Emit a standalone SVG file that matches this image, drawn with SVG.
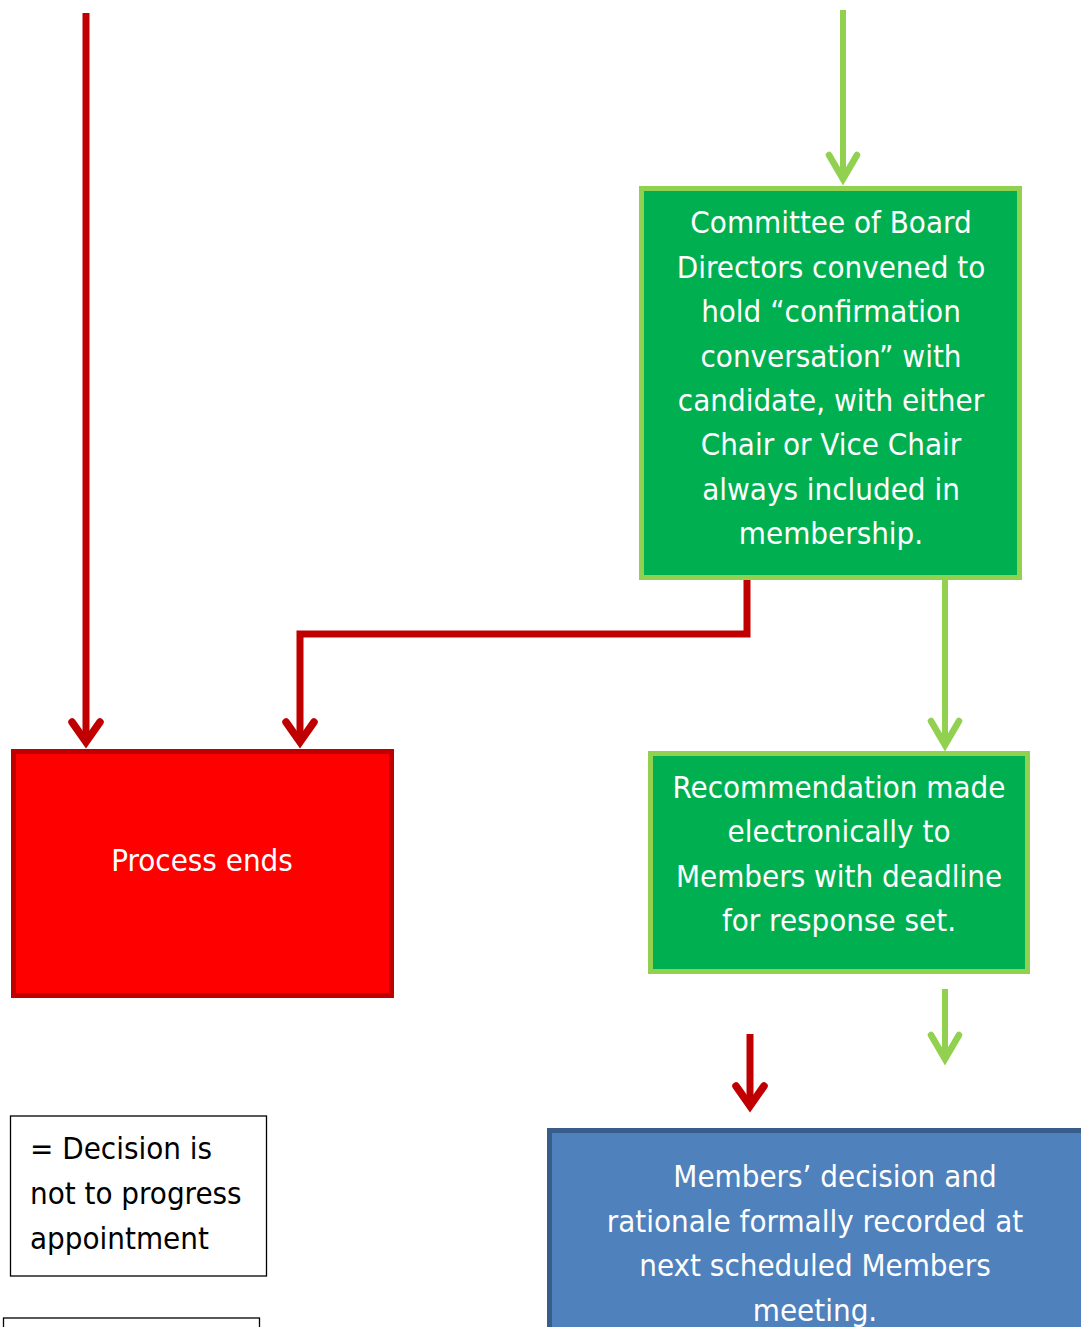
<svg xmlns="http://www.w3.org/2000/svg" width="1081" height="1327" viewBox="0 0 1081 1327">
  <style>
    .lbl { font-family: "DejaVu Sans Condensed", "DejaVu Sans", sans-serif; font-size: 31px; fill: #ffffff; text-anchor: middle; }
    .key { font-family: "DejaVu Sans Condensed", "DejaVu Sans", sans-serif; font-size: 31px; fill: #000000; }
    .green-box { fill: #00b050; stroke: #92d050; stroke-width: 5; }
    .red-box { fill: #ff0000; stroke: #c00000; stroke-width: 5; }
    .blue-box { fill: #4f81bd; stroke: #385d8a; stroke-width: 5; }
    .key-box { fill: #ffffff; stroke: #000000; stroke-width: 1.3; }
    .no { fill: none; stroke: #c00000; stroke-width: 7; }
    .yes { fill: none; stroke: #92d050; stroke-width: 6; }
  </style>
  <defs>
    <marker id="head-red" markerUnits="userSpaceOnUse" orient="auto" viewBox="-30 -20 40 40" refX="0" refY="0" markerWidth="40" markerHeight="40" overflow="visible">
      <path d="M-20,-14 L0,0 L-20,14" fill="none" stroke="#c00000" stroke-width="7.5" stroke-linecap="round" stroke-linejoin="miter"/>
    </marker>
    <marker id="head-green" markerUnits="userSpaceOnUse" orient="auto" viewBox="-30 -20 40 40" refX="0" refY="0" markerWidth="40" markerHeight="40" overflow="visible">
      <path d="M-24,-14 L0,0 L-24,14" fill="none" stroke="#92d050" stroke-width="6.5" stroke-linecap="round" stroke-linejoin="miter"/>
    </marker>
  </defs>

  <!-- connectors: red = not progressed, green = progressed -->
  <g id="connectors">
    <path class="no" d="M86,13 L86,742" marker-end="url(#head-red)"/>
    <path class="yes" d="M843,10 L843,179" marker-end="url(#head-green)"/>
    <path class="no" d="M747,573 L747,634 L300,634 L300,742" marker-end="url(#head-red)"/>
    <path class="yes" d="M945,580 L945,745" marker-end="url(#head-green)"/>
    <path class="yes" d="M945,989 L945,1059" marker-end="url(#head-green)"/>
    <path class="no" d="M750,1034 L750,1106" marker-end="url(#head-red)"/>
  </g>

  <g id="committee">
    <rect class="green-box" x="641.5" y="188.5" width="378" height="389"/>
    <text class="lbl"><tspan x="831" y="233">Committee of Board</tspan><tspan x="831" y="278">Directors convened to</tspan><tspan x="831" y="322">hold “confirmation</tspan><tspan x="831" y="367">conversation” with</tspan><tspan x="831" y="411">candidate, with either</tspan><tspan x="831" y="455">Chair or Vice Chair</tspan><tspan x="831" y="500">always included in</tspan><tspan x="831" y="544">membership.</tspan></text>
  </g>

  <g id="process-ends">
    <rect class="red-box" x="13.5" y="751.5" width="378" height="244"/>
    <text class="lbl" x="202" y="871">Process ends</text>
  </g>

  <g id="recommendation">
    <rect class="green-box" x="650.5" y="753.5" width="377" height="218"/>
    <text class="lbl"><tspan x="839" y="798">Recommendation made</tspan><tspan x="839" y="842">electronically to</tspan><tspan x="839" y="887">Members with deadline</tspan><tspan x="839" y="931">for response set.</tspan></text>
  </g>

  <g id="members-decision">
    <rect class="blue-box" x="549.5" y="1130.5" width="540" height="220"/>
    <text class="lbl"><tspan x="835" y="1187">Members’ decision and</tspan><tspan x="815" y="1232">rationale formally recorded at</tspan><tspan x="815" y="1276">next scheduled Members</tspan><tspan x="815" y="1321">meeting.</tspan></text>
  </g>

  <g id="key-no">
    <rect class="key-box" x="10.5" y="1116" width="256" height="160"/>
    <text class="key"><tspan x="30" y="1159">= Decision is</tspan><tspan x="30" y="1204">not to progress</tspan><tspan x="30" y="1249">appointment</tspan></text>
  </g>

  <g id="key-yes">
    <rect class="key-box" x="3.5" y="1318" width="256" height="40"/>
  </g>
</svg>
